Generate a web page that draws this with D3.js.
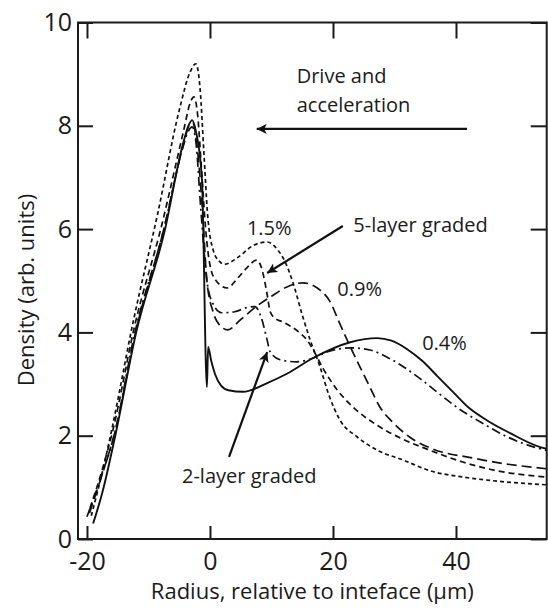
<!DOCTYPE html>
<head>
  <meta charset="utf-8">
  <style>
    body { margin: 0; background: #fff; }
    text { font-family: "Open Sans", sans-serif; fill: #1a1a1a; }
    .axis line { stroke: #1a1a1a; stroke-width: 2; }
    .axis path { display: none; }
    .axis text { font-size: 25px; font-family: "Open Sans", sans-serif; }
  </style>
  <script src="https://d3js.org/d3.v7.min.js"></script>
</head>
<body>
<script>
// density profiles, [radius um, density]
var solid04 = [[-19, 0.3], [-17.5, 0.9], [-15.4, 2.0], [-12, 4.0], [-7.3, 6.0], [-4.5, 7.6], [-3.5, 8.0],
  [-2.9, 8.11], [-2.3, 7.9], [-1.3, 6.95], [-0.5, 2.94], [-0.3, 3.72], [0.2, 3.45], [0.8, 3.2], [1.8, 2.97],
  [3, 2.88], [5.4, 2.85], [9.3, 3.02], [12.5, 3.2], [16.7, 3.5], [22.8, 3.81], [27.2, 3.89], [29.5, 3.84],
  [32, 3.68], [34.5, 3.45], [37, 3.15], [39.5, 2.85], [42, 2.55], [45, 2.3], [48.8, 2.05], [53.7, 1.78],
  [54.7, 1.75]];

var dash09 = [[-19.6, 0.5], [-17.4, 1.3], [-15.5, 2.05], [-12, 4.05], [-7.4, 6.05], [-4.4, 7.6], [-3.4, 8.0],
  [-2.8, 8.05], [-2.2, 7.7], [-1.3, 6.5], [-0.5, 5.0], [0.5, 4.4], [1.5, 4.15], [2.9, 4.05], [5, 4.25],
  [7.5, 4.5], [10, 4.7], [12.5, 4.88], [15.1, 4.96], [17.9, 4.82], [19.5, 4.6], [21, 4.2], [22.5, 3.8],
  [24.4, 3.33], [26, 2.94], [27.6, 2.56], [29.8, 2.25], [32.5, 1.97], [36.3, 1.74], [42.6, 1.57],
  [47.2, 1.47], [54.7, 1.36]];

var dash15 = [[-19.3, 0.45], [-17.5, 1.3], [-16, 2.1], [-12.5, 4.2], [-8.5, 6.3], [-5, 8.3], [-3.2, 9.05],
  [-2.3, 9.2], [-1.6, 8.7], [-1, 7.5], [-0.4, 6.3], [0.5, 5.6], [1.5, 5.38], [2.4, 5.32], [4.5, 5.45],
  [7, 5.68], [9.3, 5.75], [11, 5.6], [11.9, 5.44], [12.8, 5.2], [13.5, 4.96], [15.1, 4.3], [16.3, 3.85],
  [17.9, 3.33], [19.3, 2.8], [21.1, 2.31], [23.9, 1.98], [27.2, 1.72], [31.4, 1.53], [35.8, 1.32],
  [41.1, 1.2], [46.7, 1.12], [54.7, 1.05]];

var fiveLayer = [[-19.5, 0.6], [-17.5, 1.35], [-15.8, 2.1], [-12.3, 4.1], [-7.8, 6.1], [-4.3, 7.9],
  [-3.2, 8.45], [-2.6, 8.56], [-2, 8.2], [-1.4, 7.2], [-0.7, 6], [0, 5.3], [1, 5.0], [2.8, 4.86],
  [4.5, 5.05], [6, 5.25], [7.6, 5.4], [8.5, 5.2], [9.2, 4.8], [9.8, 4.4], [10.5, 4.28], [11.9, 4.2],
  [14.6, 3.99], [15.8, 3.85], [16.6, 3.7], [18.4, 3.3], [20.6, 2.9], [23.3, 2.55], [27.2, 2.2],
  [31.4, 1.93], [35.3, 1.74], [41.1, 1.49], [46.7, 1.32], [54.7, 1.2]];

var twoLayer = [[-20, 0.43], [-18, 1.1], [-15.6, 2.0], [-12.2, 4.0], [-7.5, 6.0], [-4.6, 7.5], [-3.5, 7.9],
  [-2.9, 7.98], [-2.3, 7.7], [-1.5, 6.4], [-0.5, 5.0], [0.5, 4.55], [1.9, 4.38], [4, 4.4], [6, 4.48],
  [7.3, 4.5], [8.3, 4.3], [9.2, 3.9], [9.8, 3.62], [11.4, 3.47], [14.1, 3.43], [16.7, 3.5], [19, 3.62],
  [22.8, 3.7], [26, 3.66], [28.8, 3.52], [31, 3.37], [34, 3.12], [37.4, 2.8], [40.5, 2.52],
  [43.9, 2.27], [48.3, 1.98], [53.3, 1.76], [54.7, 1.72]];

var xTicks = [-20, 0, 20, 40];
var yTicks = [0, 2, 4, 6, 8, 10];

var w = 548, h = 610;
var plotL = 78, plotT = 22.5, plotR = 546.7, plotB = 539;

var x = d3.scaleLinear().domain([-21.46, 54.75]).range([plotL, plotR]);
var y = d3.scaleLinear().domain([0, 10]).range([plotB, plotT]);

var svg = d3.select("body").append("svg")
  .attr("width", w)
  .attr("height", h);

var defs = svg.append("defs");
defs.append("clipPath").attr("id", "plot")
  .append("rect")
  .attr("x", plotL).attr("y", plotT)
  .attr("width", plotR - plotL).attr("height", plotB - plotT);

// axes, ticks pointing in
var fmt = function(d) { return String(d); };
svg.append("g").attr("class", "axis")
  .attr("transform", "translate(0," + plotB + ")")
  .call(d3.axisBottom(x).tickValues(xTicks).tickSize(-13).tickSizeOuter(0).tickPadding(13).tickFormat(fmt));
svg.append("g").attr("class", "axis")
  .attr("transform", "translate(0," + plotT + ")")
  .call(d3.axisTop(x).tickValues(xTicks).tickSize(-16).tickSizeOuter(0).tickFormat(""));
svg.append("g").attr("class", "axis")
  .attr("transform", "translate(" + plotL + ",0)")
  .call(d3.axisLeft(y).tickValues(yTicks).tickSize(-15).tickSizeOuter(0).tickPadding(6).tickFormat(fmt));
svg.append("g").attr("class", "axis")
  .attr("transform", "translate(" + plotR + ",0)")
  .call(d3.axisRight(y).tickValues(yTicks).tickSize(-16).tickSizeOuter(0).tickFormat(""));

svg.append("rect")
  .attr("x", plotL).attr("y", plotT)
  .attr("width", plotR - plotL).attr("height", plotB - plotT)
  .attr("fill", "none")
  .attr("stroke", "#1a1a1a")
  .attr("stroke-width", 2);

// curves
var line = d3.line()
  .x(function(d) { return x(d[0]); })
  .y(function(d) { return y(d[1]); })
  .curve(d3.curveMonotoneX);

var series = [
  { data: dash15, dash: "4,3" },
  { data: fiveLayer, dash: "6,4" },
  { data: dash09, dash: "10,5" },
  { data: twoLayer, dash: "9,4,2,4" },
  { data: solid04, dash: null }
];

svg.append("g").attr("clip-path", "url(#plot)")
  .selectAll("path")
  .data(series)
  .enter()
  .append("path")
  .attr("d", function(d) { return line(d.data); })
  .attr("fill", "none")
  .attr("stroke", "#111")
  .attr("stroke-width", function(d) { return d.dash ? 1.7 : 1.9; })
  .attr("stroke-dasharray", function(d) { return d.dash; });

// annotations
defs.append("marker")
  .attr("id", "head")
  .attr("viewBox", "0 0 10 10")
  .attr("refX", 10).attr("refY", 5)
  .attr("markerUnits", "userSpaceOnUse")
  .attr("markerWidth", 28).attr("markerHeight", 10)
  .attr("orient", "auto")
  .append("path")
  .attr("d", "M0,0 L10,5 L0,10 L2.5,5 Z")
  .attr("fill", "#111");

var arrows = [
  [[41.8, 7.94], [7.6, 7.94]],
  [[21.6, 6.06], [9.3, 5.15]],
  [[3.1, 1.59], [9.3, 3.62]]
];

svg.selectAll("line.arrow")
  .data(arrows)
  .enter()
  .append("line")
  .attr("class", "arrow")
  .attr("x1", function(d) { return x(d[0][0]); })
  .attr("y1", function(d) { return y(d[0][1]); })
  .attr("x2", function(d) { return x(d[1][0]); })
  .attr("y2", function(d) { return y(d[1][1]); })
  .attr("stroke", "#111")
  .attr("stroke-width", 2.2)
  .attr("marker-end", "url(#head)");

var notes = [
  { t: "Drive and", at: [14.1, 8.83] },
  { t: "acceleration", at: [14.1, 8.27] },
  { t: "1.5%", at: [6.0, 5.89] },
  { t: "5-layer graded", at: [23.3, 5.94] },
  { t: "0.9%", at: [20.7, 4.7] },
  { t: "0.4%", at: [34.5, 3.66] },
  { t: "2-layer graded", at: [-4.55, 1.08] }
];

svg.selectAll("text.note")
  .data(notes)
  .enter()
  .append("text")
  .attr("class", "note")
  .attr("x", function(d) { return x(d.at[0]); })
  .attr("y", function(d) { return y(d.at[1]); })
  .attr("font-size", "20px")
  .text(function(d) { return d.t; });

// axis titles
svg.append("text")
  .attr("x", (plotL + plotR) / 2)
  .attr("y", 599)
  .attr("text-anchor", "middle")
  .attr("font-size", "22px")
  .text("Radius, relative to inteface (\u03bcm)");

svg.append("text")
  .attr("transform", "translate(34,290) rotate(-90)")
  .attr("text-anchor", "middle")
  .attr("font-size", "22px")
  .text("Density (arb. units)");
</script>
</body>
